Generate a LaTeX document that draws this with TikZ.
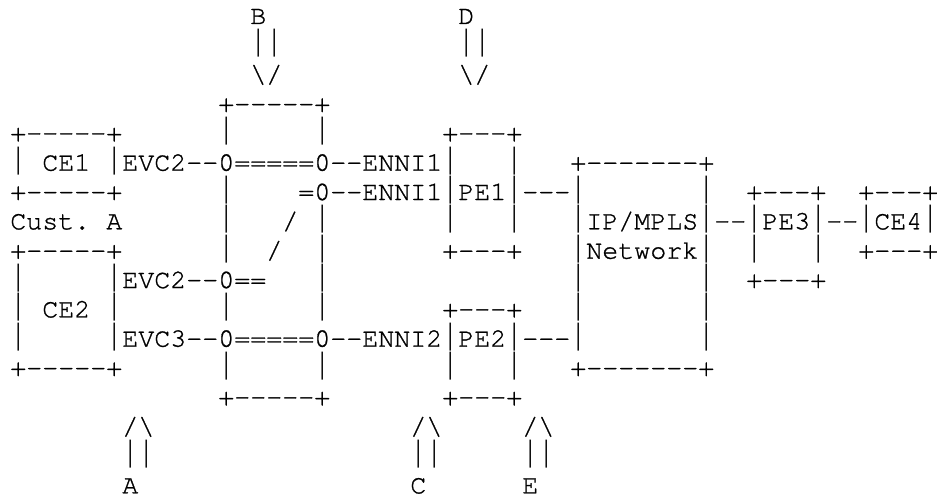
\documentclass[tikz,border=0pt]{standalone}
\usepackage{fontspec}
\usepackage{graphicx}
\setmonofont[FakeBold=1]{texgyrecursor-regular.otf}
\newfontfamily\barfont{DejaVu Sans Mono}
\usepackage{tikz}
\tikzset{
  asciirow/.style={anchor=base west, inner sep=0pt, outer sep=0pt,
    font=\ttfamily\fontsize{10pt}{11pt}\selectfont}
}
\newcommand{\sk}[1]{\kern#1\fontcharwd\font`x\relax}
\newcommand{\bsl}{\textbackslash}
\newcommand{\vb}{\makebox[\fontcharwd\font`x][c]{\raisebox{0.09em}{\scalebox{0.65}[1.05]{\barfont|}}}}

\begin{document}
\begin{tikzpicture}[x=6pt, y=-11pt]
  \useasboundingbox (0,0) rectangle (58.56,16.977);
  \node[asciirow] (markBD)  at (0.643,0.818)  {\sk{15}B\sk{12}D};
  \node[asciirow] (shaftBD) at (0.643,1.818)  {\sk{15}\vb\vb\sk{11}\vb\vb};
  \node[asciirow] (tipBD)   at (0.643,2.818)  {\sk{15}\bsl/\sk{11}\bsl/};
  \node[asciirow] (enniTop) at (0.643,3.818)  {\sk{13}+-----+};
  \node[asciirow] (ceOneTop) at (0.643,4.818) {+-----+\sk{6}\vb\sk{5}\vb\sk{7}+---+};
  \node[asciirow] (ceOne)   at (0.643,5.818)  {\vb\sk{1}CE1\sk{1}\vb EVC2--0=====0--ENNI1\vb\sk{3}\vb\sk{3}+-------+};
  \node[asciirow] (peOne)   at (0.643,6.818)  {+-----+\sk{6}\vb\sk{4}=0--ENNI1\vb PE1\vb---\vb\sk{7}\vb\sk{2}+---+\sk{2}+---+};
  \node[asciirow] (custA)   at (0.643,7.818)  {Cust.\sk{1}A\sk{6}\vb\sk{3}/\sk{1}\vb\sk{7}\vb\sk{3}\vb\sk{3}\vb IP/MPLS\vb--\vb PE3\vb--\vb CE4\vb};
  \node[asciirow] (ceTwoTop) at (0.643,8.818) {+-----+\sk{6}\vb\sk{2}/\sk{2}\vb\sk{7}+---+\sk{3}\vb Network\vb\sk{2}\vb\sk{3}\vb\sk{2}+---+};
  \node[asciirow] (evcTwo)  at (0.643,9.818)  {\vb\sk{5}\vb EVC2--0==\sk{3}\vb\sk{15}\vb\sk{7}\vb\sk{2}+---+};
  \node[asciirow] (ceTwo)   at (0.643,10.818) {\vb\sk{1}CE2\sk{1}\vb\sk{6}\vb\sk{5}\vb\sk{7}+---+\sk{3}\vb\sk{7}\vb};
  \node[asciirow] (evcThree) at (0.643,11.818) {\vb\sk{5}\vb EVC3--0=====0--ENNI2\vb PE2\vb---\vb\sk{7}\vb};
  \node[asciirow] (ceTwoBot) at (0.643,12.818) {+-----+\sk{6}\vb\sk{5}\vb\sk{7}\vb\sk{3}\vb\sk{3}+-------+};
  \node[asciirow] (enniBot) at (0.643,13.818) {\sk{13}+-----+\sk{7}+---+};
  \node[asciirow] (tipACE)  at (0.643,14.818) {\sk{7}/\bsl\sk{16}/\bsl\sk{5}/\bsl};
  \node[asciirow] (shaftACE) at (0.643,15.818) {\sk{7}\vb\vb\sk{16}\vb\vb\sk{5}\vb\vb};
  \node[asciirow] (markACE) at (0.643,16.818) {\sk{7}A\sk{17}C\sk{6}E};
\end{tikzpicture}
\end{document}
